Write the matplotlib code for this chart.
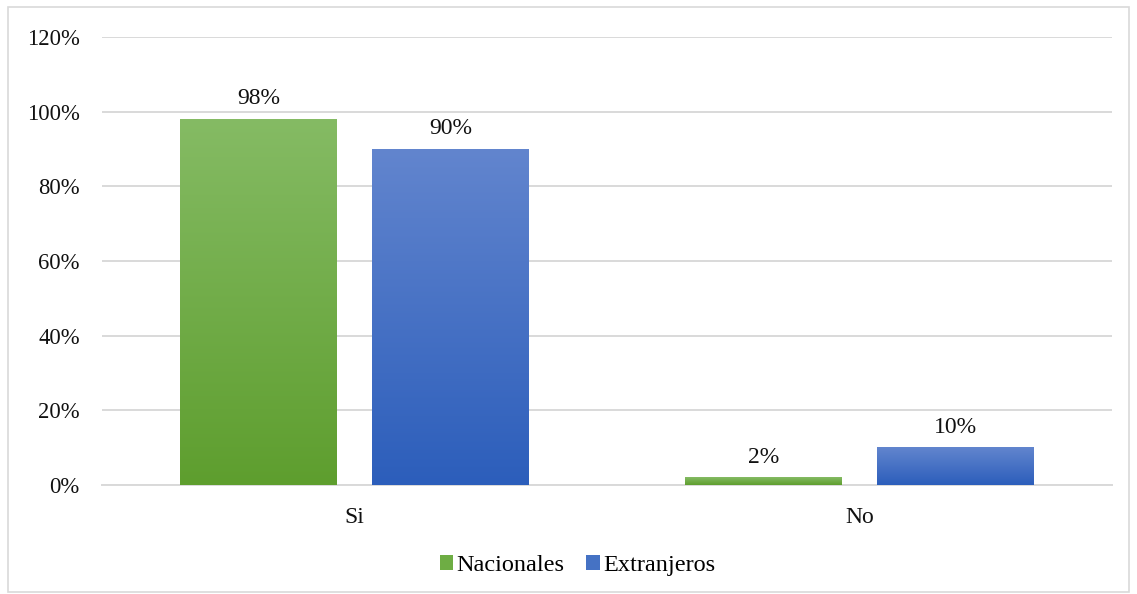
import matplotlib
matplotlib.use("Agg")
import matplotlib.pyplot as plt
import matplotlib.colors as mcolors
from matplotlib.patches import Rectangle, Patch
import numpy as np

categories = ["Si", "No"]
nacionales = [98, 2]
extranjeros = [90, 10]
series_names = ["Nacionales", "Extranjeros"]
yticks = [0, 20, 40, 60, 80, 100, 120]

plt.rcParams['font.family'] = ['Liberation Serif', 'DejaVu Serif']

fig = plt.figure(figsize=(11.37, 5.94), dpi=100)
ax = fig.add_axes([0.0897, 0.1835, 0.8883, 0.7542])

# outer chart border
fig.patches.append(Rectangle((0.007, 0.003), 0.986, 0.985, transform=fig.transFigure,
                             fill=False, edgecolor='#D9D9D9', linewidth=1.2))

# gradient colours (top, bottom)
grad = {
    "Nacionales": ('#85BB64', '#5E9E2E'),
    "Extranjeros": ('#6285CE', '#2C5EBB'),
}

x = np.arange(len(categories))
width = 0.31
offset = 0.19

for vals, name, sign in [(nacionales, "Nacionales", -1), (extranjeros, "Extranjeros", 1)]:
    cmap = mcolors.LinearSegmentedColormap.from_list(name, [grad[name][1], grad[name][0]])
    bars = ax.bar(x + sign * offset, vals, width, color='none', edgecolor='none', zorder=3)
    for b, v in zip(bars, vals):
        x0 = b.get_x()
        ax.imshow(np.linspace(0, 1, 256).reshape(-1, 1), cmap=cmap, origin='lower',
                  extent=[x0, x0 + width, 0, v], aspect='auto', zorder=3)
        ax.annotate(f"{v}%", (x0 + width / 2, v), xytext=(0, 7), textcoords='offset points',
                    ha='center', va='bottom', fontsize=17, color='#111111')

ax.set_xlim(-0.5, 1.5)
ax.set_ylim(0, 120)
ax.set_yticks(yticks)
ax.set_yticklabels([f"{t}%" for t in yticks], fontsize=16.3, color='#111111')
ax.set_xticks(x)
ax.set_xticklabels(categories, fontsize=17, color='#111111')
ax.tick_params(length=0)
ax.tick_params(axis='x', pad=16)
ax.tick_params(axis='y', pad=16)
ax.grid(axis='y', color='#D9D9D9', linewidth=1.4, zorder=0)
for s in ['top', 'right', 'left']:
    ax.spines[s].set_visible(False)
ax.spines['bottom'].set_color('#D9D9D9')
ax.spines['bottom'].set_linewidth(1.4)

handles = [Patch(facecolor='#6EAD44'), Patch(facecolor='#4572C4')]
fig.legend(handles, series_names, loc='center', bbox_to_anchor=(0.508, 0.048), ncol=2,
           frameon=False, fontsize=17.5, handlelength=0.55, handleheight=0.55,
           handletextpad=0.15, columnspacing=0.9)

fig.savefig("out.png", dpi=100)
